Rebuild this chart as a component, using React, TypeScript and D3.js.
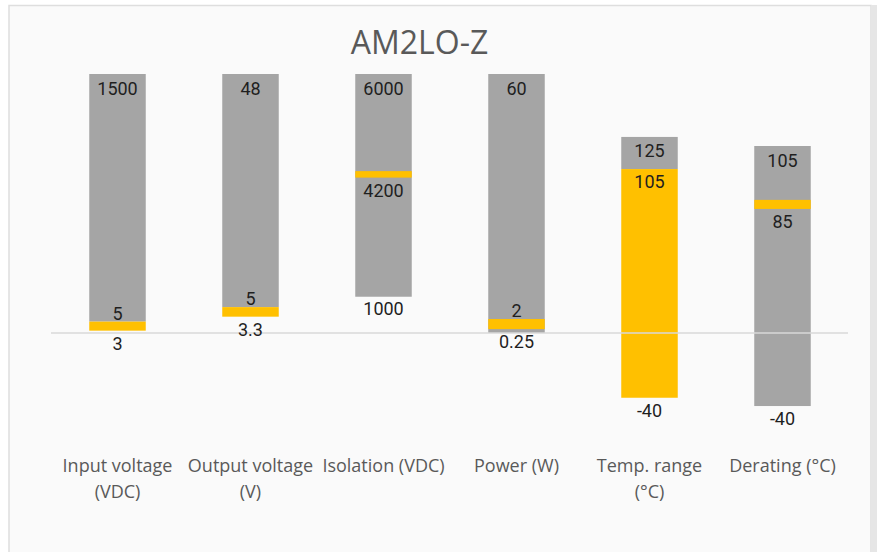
import React from "react";
import * as d3 from "d3";

const title = "AM2LO-Z";
const categories = [
  "Input voltage (VDC)",
  "Output voltage (V)",
  "Isolation (VDC)",
  "Power (W)",
  "Temp. range (°C)",
  "Derating (°C)",
];
// bar extents in chart units (normalised per category, as in the original)
const grayLow = [4.4, 10.0, 14.0, 0, 63.3, -28.2];
const grayHigh = [100, 100, 100, 100, 75.7, 72.2];
const yellowLow = [0.9, 6.3, 60.0, 1.5, -25.0, 47.9];
const yellowHigh = [4.4, 10.0, 62.5, 5.4, 63.3, 51.4];

// data labels
const topLabels = ["1500", "48", "6000", "60", "125", "105"];
const midLabels = ["5", "5", "4200", "2", "105", "85"];
const midAnchor = ["yHighAbove", "yHighAbove", "yLowBelow", "yHighAbove", "yHighBelow", "yLowBelow"];
const lowLabels = ["3", "3.3", "1000", "0.25", "-40", "-40"];
const lowAnchor = ["yLowBelow", "yLowBelow", "gLowBelow", "yLowBelow", "yLowBelow", "gLowBelow"];

const W = 877;
const H = 552;
const GRAY = "#a5a5a5";
const YELLOW = "#ffc000";

function wrap(text: string, maxW: number, font: string): string[] {
  const c = document.createElement("canvas").getContext("2d");
  if (!c) return [text];
  c.font = font;
  const words = text.split(" ");
  const lines: string[] = [];
  let cur = "";
  for (const w of words) {
    const t = cur ? cur + " " + w : w;
    if (c.measureText(t).width > maxW && cur) {
      lines.push(cur);
      cur = w;
    } else cur = t;
  }
  if (cur) lines.push(cur);
  return lines;
}

export default function App() {
  const x = d3.scaleBand<string>().domain(categories).range([51, 849]).padding(0);
  const y = d3.scaleLinear().domain([-50, 100]).range([333 + 50 * 2.59, 74]);
  const bw = 56.5;
  const cx = (i: number) => (x(categories[i]) as number) + x.bandwidth() / 2;

  const anchorY = (i: number, a: string) => {
    if (a === "yHighAbove") return y(yellowHigh[i]) - 2;
    if (a === "yHighBelow") return y(yellowHigh[i]) + 19;
    if (a === "yLowBelow") return y(yellowLow[i]) + 19;
    if (a === "gLowBelow") return y(grayLow[i]) + 18.5;
    return 0;
  };

  const catFont = "18px 'Open Sans'";

  return (
    <svg
      width={W}
      height={H}
      style={{ position: "absolute", left: 0, top: 0, background: "#ffffff" }}
    >
      <rect x={9} y={5.5} width={862} height={560} fill="#fafafa" stroke="#dedede" strokeWidth={1.5} />
      <rect x={871.5} y={5} width={6} height={H} fill="#e6e6e6" />
      <text
        x={419.5}
        y={54.3}
        textAnchor="middle"
        fontFamily="'Open Sans', sans-serif"
        fontSize={32}
        fill="#595959"
      >
        {title}
      </text>

      {categories.map((c, i) => (
        <g key={c}>
          <rect
            x={cx(i) - bw / 2}
            width={bw}
            y={y(grayHigh[i])}
            height={y(grayLow[i]) - y(grayHigh[i])}
            fill={GRAY}
          />
          <rect
            x={cx(i) - bw / 2}
            width={bw}
            y={y(yellowHigh[i])}
            height={y(yellowLow[i]) - y(yellowHigh[i])}
            fill={YELLOW}
          />
        </g>
      ))}

      <line x1={51} x2={848} y1={333} y2={333} stroke="#d9d9d9" strokeWidth={1.6} />

      <g fontFamily="Roboto, sans-serif" fontSize={18} fill="#1f1f1f" textAnchor="middle">
        {categories.map((c, i) => (
          <g key={c}>
            <text x={cx(i)} y={y(grayHigh[i]) + 20.5}>
              {topLabels[i]}
            </text>
            <text x={cx(i)} y={anchorY(i, midAnchor[i])}>
              {midLabels[i]}
            </text>
            <text x={cx(i)} y={anchorY(i, lowAnchor[i])}>
              {lowLabels[i]}
            </text>
          </g>
        ))}
      </g>

      <g fontFamily="'Open Sans', sans-serif" fontSize={18} fill="#595959" textAnchor="middle">
        {categories.map((c, i) => (
          <text key={c} x={cx(i)} y={471.5}>
            {wrap(c, 133, catFont).map((ln, k) => (
              <tspan key={k} x={cx(i)} dy={k === 0 ? 0 : 26.5}>
                {ln}
              </tspan>
            ))}
          </text>
        ))}
      </g>
    </svg>
  );
}
